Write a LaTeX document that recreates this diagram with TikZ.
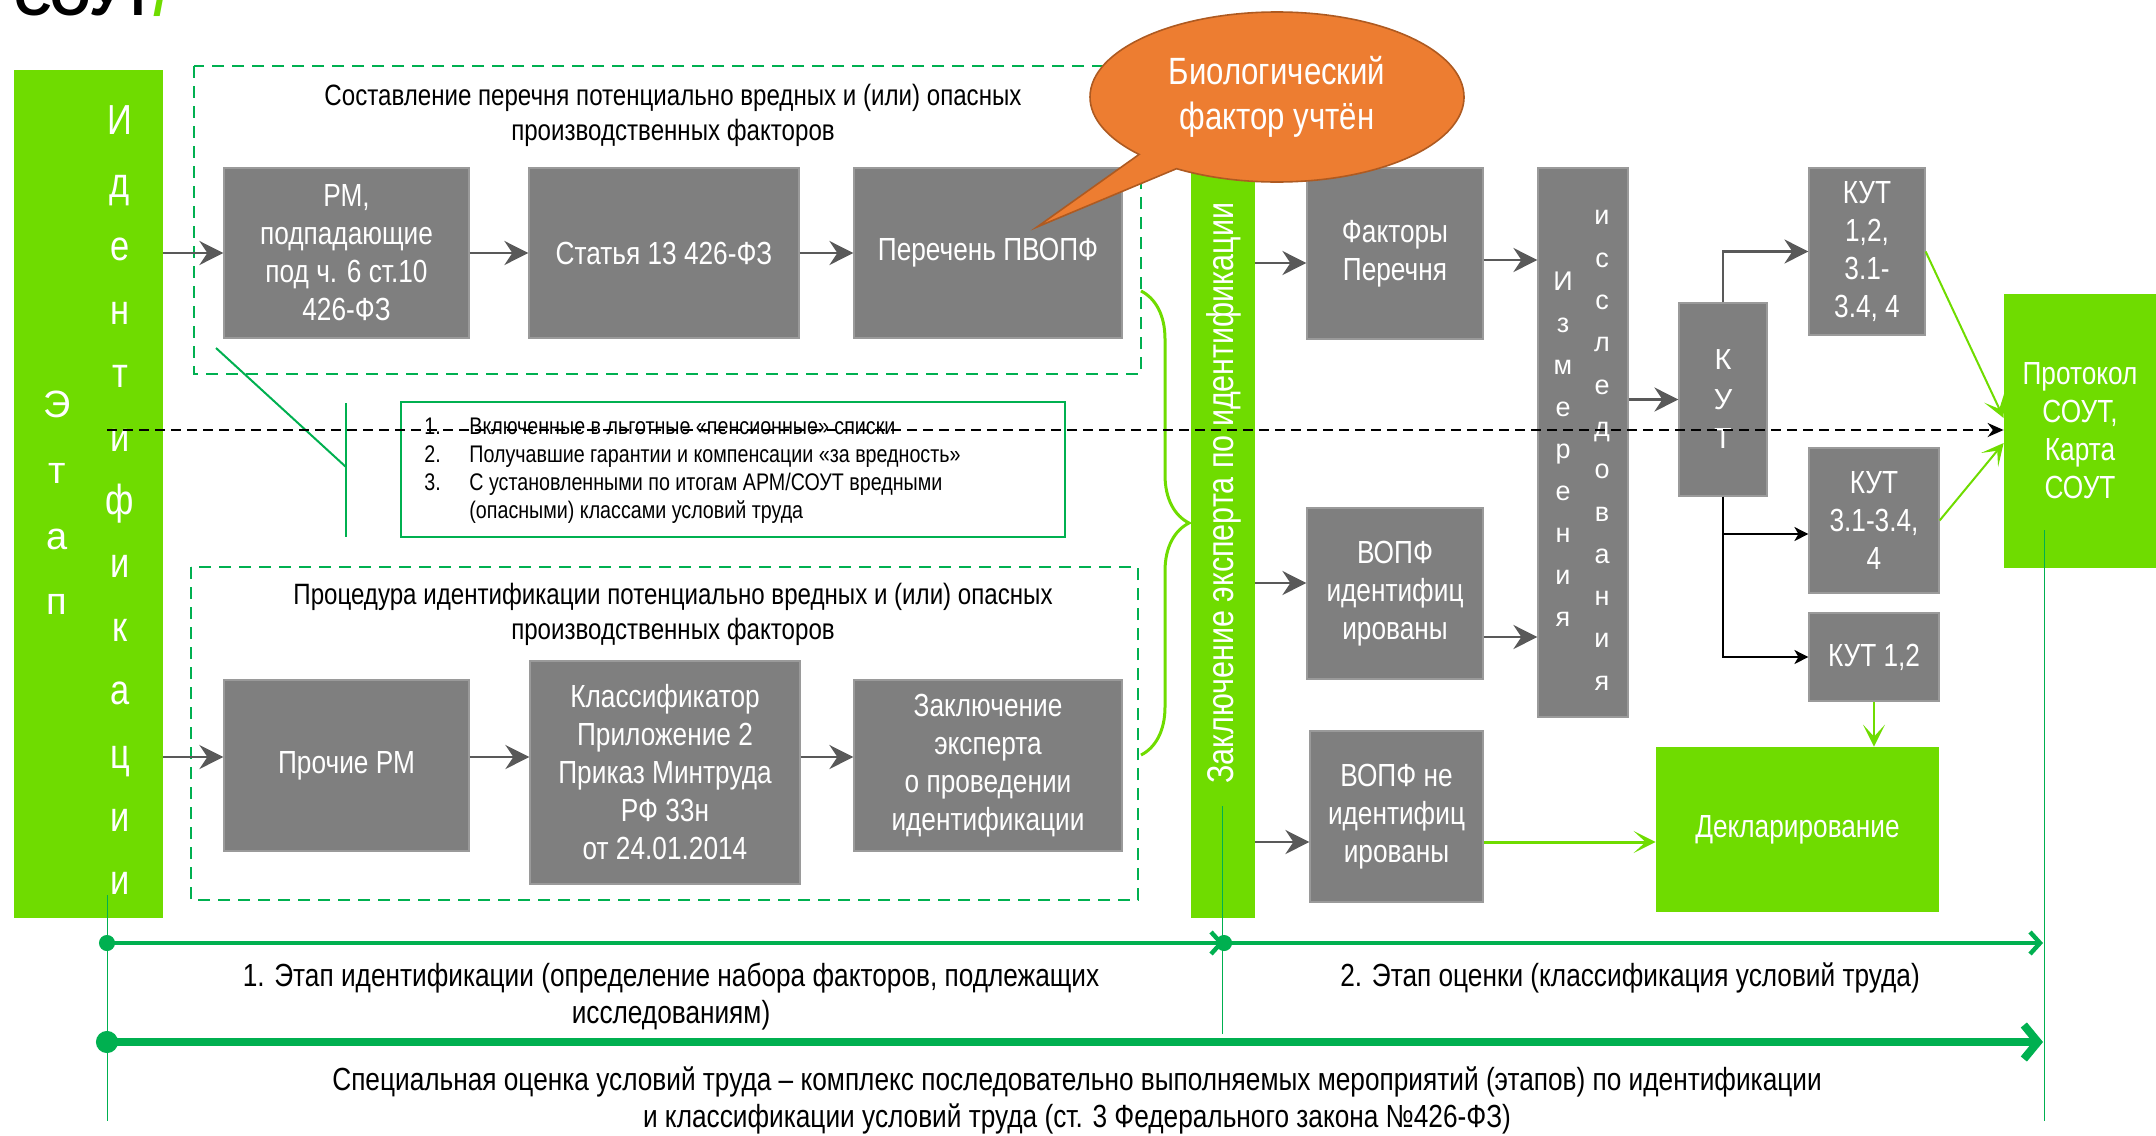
\documentclass[tikz,border=0pt]{standalone}
\usepackage{fontspec}
\setmainfont{Liberation Sans}[FakeStretch=0.82]
\newfontfamily\widefont{Liberation Sans}
\usetikzlibrary{arrows.meta, shapes.callouts, decorations.pathreplacing}

\definecolor{barlime}{HTML}{6FDC00}
\definecolor{framegreen}{HTML}{00B050}
\definecolor{boxgray}{HTML}{7F7F7F}
\definecolor{boxedge}{HTML}{9A9A9A}
\definecolor{arrowgray}{HTML}{595959}
\definecolor{bioorange}{HTML}{ED7D31}
\definecolor{bioedge}{HTML}{AE5A21}

\tikzset{
  graybox/.style={rectangle, fill=boxgray, draw=boxedge, line width=0.6pt, text=white,
    align=center, inner sep=2pt, font=\fontsize{16}{19}\selectfont},
  limebox/.style={rectangle, fill=barlime, text=white, align=center, inner sep=2pt,
    font=\fontsize{16}{19}\selectfont},
  dashframe/.style={draw=framegreen, line width=1.3pt, dash pattern=on 6pt off 4pt},
  frametitle/.style={align=center, font=\fontsize{14.7}{17.5}\selectfont},
  garrow/.style={draw=arrowgray, line width=1.3pt, -{Stealth[length=12pt, width=12pt, inset=4pt]}},
  barrow/.style={draw=black, line width=1pt, -{Stealth[length=7pt, width=7pt, inset=2pt]}},
  larrow/.style={draw=barlime, line width=1pt, -{Stealth[length=11pt, width=11pt, inset=6pt]}},
  hairline/.style={draw=framegreen, line width=0.5pt},
  stagetext/.style={align=center, font=\fontsize{16}{18.5}\selectfont},
}

\begin{document}
\begin{tikzpicture}[x=0.5pt, y=-0.5pt]
\useasboundingbox (0,0) rectangle (2156,1135);

% heading, cut by the page edge
\node[anchor=base west, inner sep=0pt, font={\widefont\bfseries\fontsize{26}{30}\selectfont}] (heading) at (14,15) {СОУТ\textcolor{barlime}{/}};

% dashed frames
\draw[dashframe] (194,66) rectangle (1141,374);
\draw[dashframe] (191,567) rectangle (1138,900);
\node[frametitle] (toptitle) at (673,115.5) {Составление перечня потенциально вредных и (или) опасных\\производственных факторов};
\node[frametitle] (bottitle) at (673,614.5) {Процедура идентификации потенциально вредных и (или) опасных\\производственных факторов};

% stage bars
\node[fill=barlime, minimum width=74.5pt, minimum height=424pt] (etap) at (88.5,494) {};
\node[text=white, align=center, font={\widefont\fontsize{19}{32.8}\selectfont}] (etapword) at (57,503) {Э\\т\\а\\п};
\node[text=white, align=center, font={\fontsize{21}{31.7}\selectfont}] (identword) at (120,500) {И\\д\\е\\н\\т\\и\\ф\\и\\к\\а\\ц\\и\\и};

\node[fill=barlime, minimum width=32pt, minimum height=379pt] (expbar) at (1223,539) {};
\node[rotate=90, text=white, font={\fontsize{18.6}{22}\selectfont}] (expword) at (1224,493) {Заключение эксперта по идентификации};

% first stage boxes
\node[graybox, minimum width=122.5pt, minimum height=85pt] (rm) at (346.5,253) {РМ,\\подпадающие\\под ч. 6 ст.10\\426-ФЗ};
\node[graybox, minimum width=135pt, minimum height=85pt] (art13) at (664,253) {Статья 13 426-ФЗ};
\node[graybox, minimum width=134pt, minimum height=85pt] (pvopf) at (988,253) {Перечень ПВОПФ};
\node[graybox, minimum width=122.5pt, minimum height=85.5pt] (otherrm) at (346.5,765.5) {Прочие РМ};
\node[graybox, minimum width=135pt, minimum height=111.5pt] (classif) at (665,772.5) {Классификатор\\Приложение 2\\Приказ Минтруда\\РФ 33н\\от 24.01.2014};
\node[graybox, minimum width=134pt, minimum height=85.5pt] (expert) at (988,765.5) {Заключение\\эксперта\\о проведении\\идентификации};

% second stage boxes
\node[graybox, minimum width=88pt, minimum height=85.5pt] (factors) at (1395,253.5) {Факторы\\Перечня};
\node[graybox, minimum width=88pt, minimum height=85.5pt] (vopfyes) at (1395,593.5) {ВОПФ\\идентифиц\\ированы};
\node[graybox, minimum width=86.5pt, minimum height=85.5pt] (vopfno) at (1396.5,816.5) {ВОПФ не\\идентифиц\\ированы};
\node[graybox, minimum width=45pt, minimum height=274.5pt] (measure) at (1583,442.5) {};
\node[text=white, align=center, font={\widefont\fontsize{13.5}{21}\selectfont}] (measleft) at (1563,449.5) {И\\з\\м\\е\\р\\е\\н\\и\\я};
\node[text=white, align=center, font={\widefont\fontsize{13.5}{21.15}\selectfont}] (measright) at (1602,450.5) {и\\с\\с\\л\\е\\д\\о\\в\\а\\н\\и\\я};
\node[graybox, minimum width=44pt, minimum height=96.5pt, font={\widefont\fontsize{14.5}{19.75}\selectfont}] (kutv) at (1723,399.5) {К\\У\\Т};
\node[graybox, minimum width=58pt, minimum height=83.5pt] (kuta) at (1867,251.5) {КУТ\\1,2,\\3.1-\\3.4, 4};
\node[graybox, minimum width=65pt, minimum height=72.5pt] (kutb) at (1874,520.5) {КУТ\\3.1-3.4,\\4};
\node[graybox, minimum width=65pt, minimum height=44pt] (kutc) at (1874,657) {КУТ 1,2};
\node[limebox, minimum width=76pt, minimum height=137pt] (protocol) at (2080,431) {Протокол\\СОУТ,\\Карта\\СОУТ};
\node[limebox, minimum width=141.5pt, minimum height=82.5pt] (declar) at (1797.5,829.5) {Декларирование};

% rows of the connectors
\coordinate (rowlow) at (0,757);
\coordinate (rowfac) at (0,263);
\coordinate (rowyes) at (0,583);
\coordinate (rowyesout) at (0,637);
\coordinate (rowno) at (0,842);
\coordinate (rowbranch) at (0,534);

\draw[garrow] (etap.east |- rm.west) -- (rm.west);
\draw[garrow] (rm.east) -- (art13.west);
\draw[garrow] (art13.east) -- (pvopf.west);
\draw[garrow] (etap.east |- rowlow) -- (otherrm.west |- rowlow);
\draw[garrow] (otherrm.east |- rowlow) -- (classif.west |- rowlow);
\draw[garrow] (classif.east |- rowlow) -- (expert.west |- rowlow);

\draw[garrow] (expbar.east |- rowfac) -- (factors.west |- rowfac);
\draw[garrow] (expbar.east |- rowyes) -- (vopfyes.west |- rowyes);
\draw[garrow] (expbar.east |- rowno) -- (vopfno.west |- rowno);
\draw[garrow] (factors.east |- 0,260) -- (measure.west |- 0,260);
\draw[garrow] (vopfyes.east |- rowyesout) -- (measure.west |- rowyesout);
\draw[garrow] (measure.east |- kutv.west) -- (kutv.west);
\draw[garrow] (kutv.north) |- (kuta.west);
\draw[barrow] (kutv.south) |- (kutb.west |- rowbranch);
\draw[barrow] (kutv.south) |- (kutc.west);

\draw[larrow] (kuta.east) -- ([yshift=6.5pt]protocol.west);
\draw[larrow] (kutb.east) -- ([yshift=-6pt]protocol.west);
\draw[larrow] (kutc.south) -- (kutc.south |- declar.north);
\draw[larrow, line width=1.5pt] (vopfno.east |- rowno) -- (declar.west |- rowno);

% list of workplaces
\node[draw=framegreen, line width=1.3pt, minimum width=332pt, minimum height=67.5pt] (critbox) at (733,469.5) {};
\node[anchor=west, inner sep=0pt, font=\fontsize{12}{14}\selectfont] (crit) at (424,471) {%
  \begin{tabular}{@{}p{22.5pt}@{}l@{}}
  1. & Включенные в льготные «пенсионные» списки\\
  2. & Получавшие гарантии и компенсации «за вредность»\\
  3. & С установленными по итогам АРМ/СОУТ вредными\\
     & (опасными) классами условий труда
  \end{tabular}};

\coordinate (diagtop) at (216,348);
\coordinate (diagend) at (346,467);
\coordinate (marktop) at (346,403);
\coordinate (markbot) at (346,537);
\draw[framegreen, line width=1pt] (diagtop) -- (diagend);
\draw[framegreen, line width=1pt] (marktop) -- (markbot);

% brace
\coordinate (bracetop) at (1141,291);
\coordinate (bracebot) at (1141,755);
\draw[barlime, line width=1.5pt, decorate, decoration={brace, amplitude=24pt}] (bracetop) -- (bracebot);

% callout
\node[ellipse callout, fill=bioorange, draw=bioedge, line width=0.8pt, minimum width=187pt, minimum height=85pt,
  callout absolute pointer={(1037,227)}, text=white, align=center, font=\fontsize{19}{22.5}\selectfont] (bio) at (1277,97) {Биологический\\фактор учтён};

% dashed line to the protocol
\coordinate (dashstart) at (107,430);
\draw[black, line width=1pt, dash pattern=on 5pt off 3pt, -{Stealth[length=8pt, width=7pt]}] (dashstart) -- (protocol.west |- dashstart);

% time line
\coordinate (v0top) at (107,895);
\coordinate (v0bot) at (107,1121);
\coordinate (v1top) at (1222,806);
\coordinate (v1bot) at (1222,1034);
\coordinate (v2top) at (2044,530);
\coordinate (v2bot) at (2044,1121);
\draw[hairline] (v0top) -- (v0bot);
\draw[hairline] (v1top) -- (v1bot);
\draw[hairline] (v2top) -- (v2bot);

\coordinate (s0) at (99,943);
\coordinate (s1) at (1224,943);
\coordinate (s1b) at (1216,943);
\coordinate (s2) at (2043,943);
\coordinate (w0) at (96,1042);
\coordinate (w2) at (2043,1042);
\draw[framegreen, line width=2.2pt, {Circle[length=8pt]}-{Straight Barb[length=5pt, width=11pt]}] (s0) -- (s1);
\draw[framegreen, line width=2.2pt, {Circle[length=8pt]}-{Straight Barb[length=5pt, width=11pt]}] (s1b) -- (s2);
\draw[framegreen, line width=4pt, {Circle[length=11pt]}-{Straight Barb[length=7pt, width=17pt]}] (w0) -- (w2);

\node[stagetext] (stage1) at (671,997) {1. Этап идентификации (определение набора факторов, подлежащих\\исследованиям)};
\node[stagetext] (stage2) at (1630,978) {2. Этап оценки (классификация условий труда)};
\node[stagetext] (soutdef) at (1077,1100) {Специальная оценка условий труда – комплекс последовательно выполняемых мероприятий (этапов) по идентификации\\и классификации условий труда (ст. 3 Федерального закона №426-ФЗ)};
\end{tikzpicture}
\end{document}
